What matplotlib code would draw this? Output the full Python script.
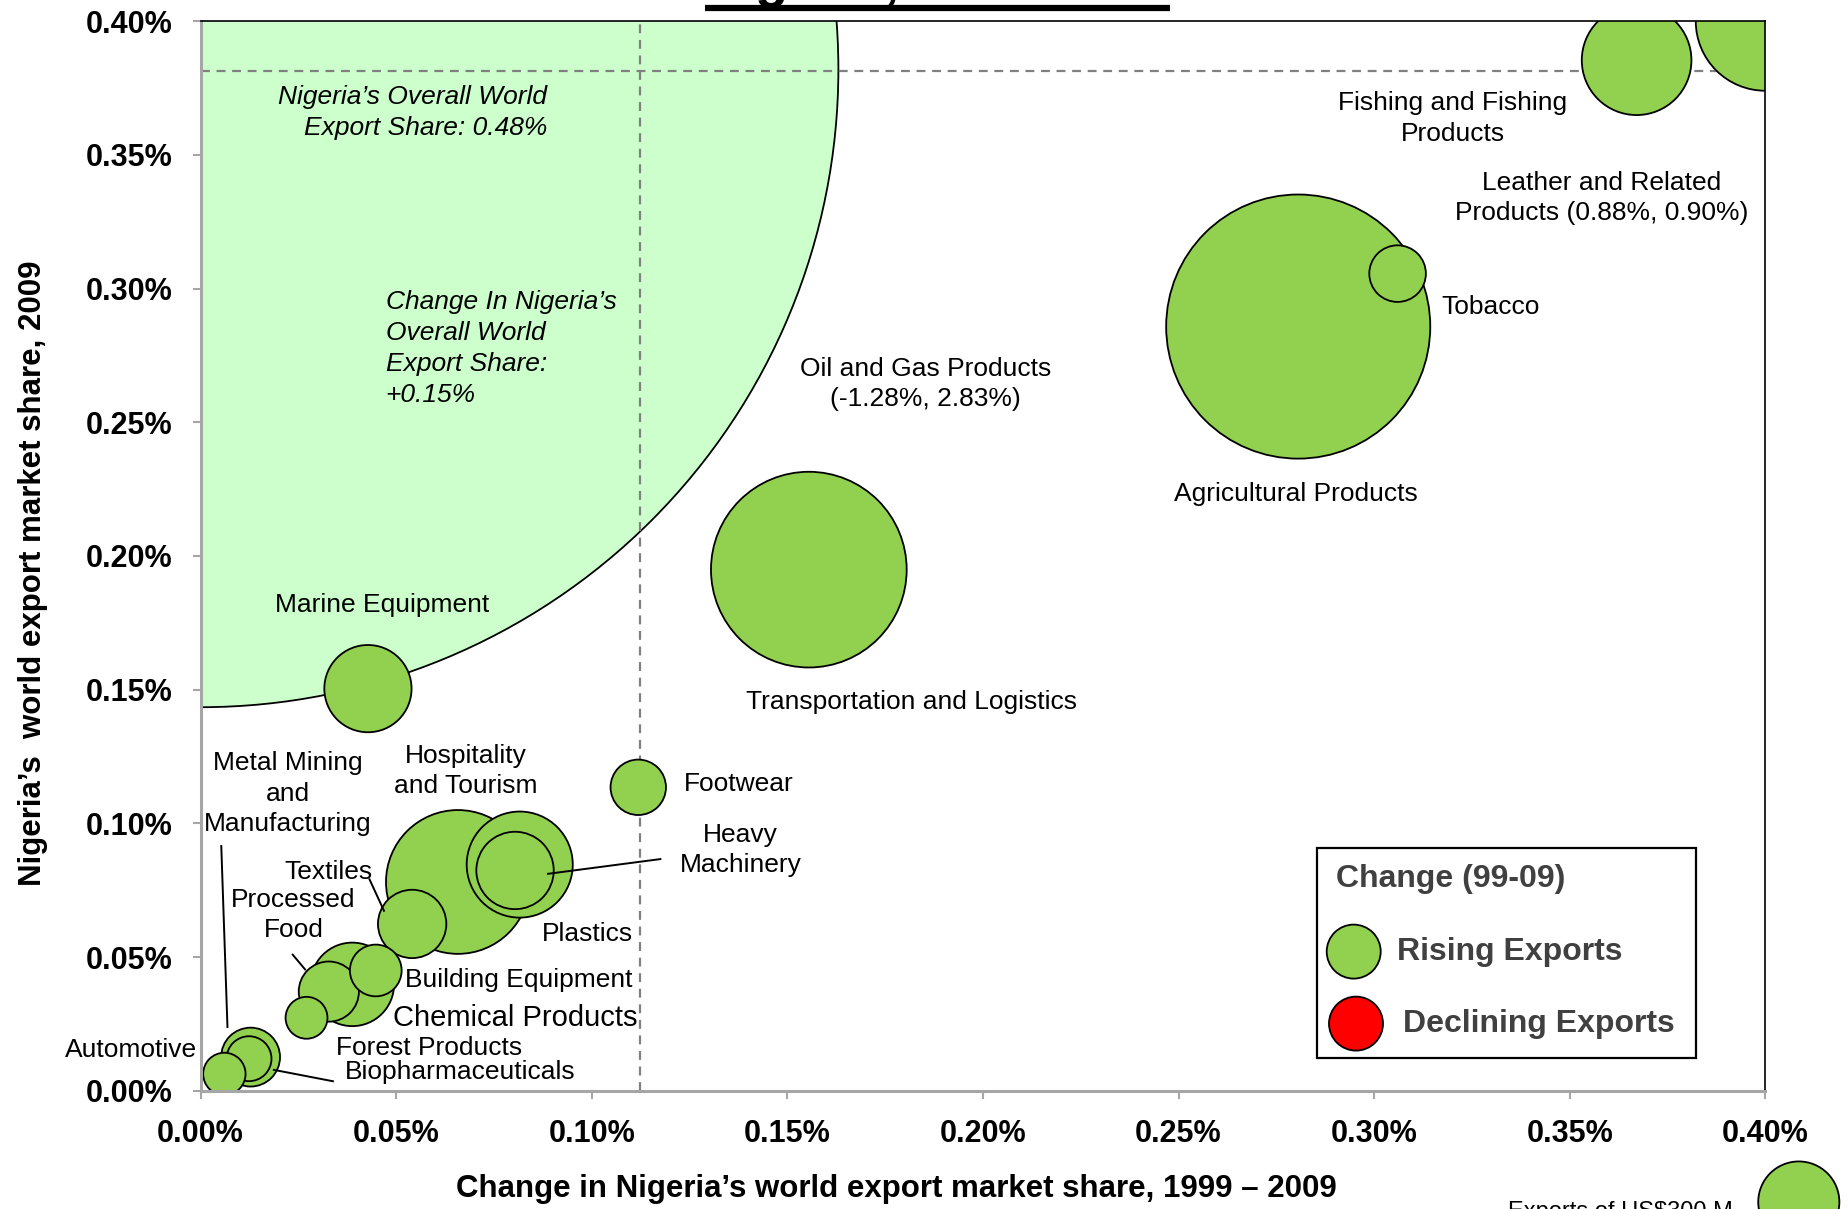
import numpy as np
import matplotlib
matplotlib.use("Agg")
import matplotlib.pyplot as plt
from matplotlib.patches import Rectangle, Ellipse
from matplotlib.lines import Line2D

plt.rcParams['font.family'] = ['Liberation Sans', 'DejaVu Sans']

# ---------------- data ----------------
clusters = ["Automotive", "Metal Mining and Manufacturing", "Biopharmaceuticals",
            "Forest Products", "Processed Food", "Chemical Products",
            "Building Equipment", "Textiles", "Hospitality and Tourism",
            "Plastics", "Heavy Machinery", "Footwear", "Marine Equipment",
            "Transportation and Logistics", "Agricultural Products", "Tobacco",
            "Fishing and Fishing Products", "Leather and Related Products"]
# change in world export market share 1999-2009 (%)
share_change = [0.0061, 0.0128, 0.0124, 0.0271, 0.0328, 0.0388, 0.0448, 0.0541,
                0.0658, 0.0816, 0.0804, 0.1119, 0.0428, 0.1555, 0.2806, 0.3060,
                0.3671, 0.88]
# world export market share 2009 (%)
share_2009 = [0.0063, 0.0126, 0.0120, 0.0273, 0.0371, 0.0398, 0.0450, 0.0624,
              0.0781, 0.0846, 0.0824, 0.1135, 0.1504, 0.1949, 0.2858, 0.3056,
              0.3854, 0.90]
# exports 2009 (US$ M) -> bubble area
exports = [82, 158, 92, 80, 165, 318, 122, 213, 943, 513, 273, 140, 347,
           1746, 3180, 146, 548, 882]

overall_change_plot = 0.0      # plotted position of Nigeria's overall bubble
overall_share_plot = 0.382
overall_exports = 74200
ref_change = 0.1124            # vertical reference line
ref_share = 0.3815             # horizontal reference line
legend_exports = 300

xtick_vals = [0.00, 0.05, 0.10, 0.15, 0.20, 0.25, 0.30, 0.35, 0.40]
xtick_labels = ["0.00%", "0.05%", "0.10%", "0.15%", "0.20%", "0.25%", "0.30%", "0.35%", "0.40%"]
ytick_vals = xtick_vals
ytick_labels = xtick_labels

GREEN = '#92D050'
RED = '#FF0000'
LIGHT = '#CCFFCC'

# ---------------- figure ----------------
DPI = 100
fig = plt.figure(figsize=(18.49, 12.09), dpi=DPI)
ax = fig.add_axes([0.10844, 0.09777, 0.84630, 0.88470])
ax.set_xlim(0, 0.40)
ax.set_ylim(0, 0.40)

REF_R_PX = 40.56  # radius in px of a US$300M bubble


def area(v):
    r_px = REF_R_PX * np.sqrt(np.asarray(v, dtype=float) / legend_exports)
    d_pt = 2 * r_px * 72.0 / DPI
    return d_pt ** 2


# overall bubble
ax.scatter([overall_change_plot], [overall_share_plot], s=area(overall_exports),
           c=LIGHT, edgecolors='black', linewidths=1.3, zorder=1)

# reference lines
ax.axhline(ref_share, color='#808080', lw=1.6, ls=(0, (4, 3)), zorder=2)
ax.axvline(ref_change, color='#808080', lw=1.6, ls=(0, (4, 3)), zorder=2)

# cluster bubbles, largest first
xs = np.minimum(np.array(share_change), 0.40)
ys = np.minimum(np.array(share_2009), 0.40)
ex = np.array(exports)
order = np.argsort(-ex, kind='stable')
ax.scatter(xs[order], ys[order], s=area(ex[order]), c=GREEN,
           edgecolors='black', linewidths=1.3, zorder=3)

# labels
FS = 19
labels = [
    ("Nigeria’s Overall World\nExport Share: 0.48%", 0.0886, 0.3658, 'right', FS, 'italic'),
    ("Change In Nigeria’s\nOverall World\nExport Share:\n+0.15%", 0.0473, 0.2776, 'left', FS, 'italic'),
    ("Fishing and Fishing\nProducts", 0.3201, 0.3636, 'center', FS, 'normal'),
    ("Leather and Related\nProducts (0.88%, 0.90%)", 0.3581, 0.3338, 'center', FS, 'normal'),
    ("Tobacco", 0.3171, 0.2933, 'left', FS, 'normal'),
    ("Oil and Gas Products\n(-1.28%, 2.83%)", 0.1854, 0.2642, 'center', FS, 'normal'),
    ("Agricultural Products", 0.2800, 0.2231, 'center', FS, 'normal'),
    ("Transportation and Logistics", 0.1817, 0.1455, 'center', FS, 'normal'),
    ("Marine Equipment", 0.0464, 0.1817, 'center', FS, 'normal'),
    ("Footwear", 0.1236, 0.1147, 'left', FS, 'normal'),
    ("Heavy\nMachinery", 0.1380, 0.0900, 'center', FS, 'normal'),
    ("Hospitality\nand Tourism", 0.0678, 0.1195, 'center', FS, 'normal'),
    ("Metal Mining\nand\nManufacturing", 0.0223, 0.1111, 'center', FS, 'normal'),
    ("Textiles", 0.0326, 0.0820, 'center', FS, 'normal'),
    ("Processed\nFood", 0.0238, 0.0657, 'center', FS, 'normal'),
    ("Plastics", 0.0989, 0.0587, 'center', FS, 'normal'),
    ("Building Equipment", 0.0524, 0.0415, 'left', FS, 'normal'),
    ("Chemical Products", 0.0491, 0.0273, 'left', 21, 'normal'),
    ("Forest Products", 0.0347, 0.0159, 'left', FS, 'normal'),
    ("Biopharmaceuticals", 0.0368, 0.0071, 'left', FS, 'normal'),
    ("Automotive", -0.0009, 0.0154, 'right', FS, 'normal'),
]
for txt, x, y, ha, fs, style in labels:
    ax.text(x, y, txt, ha=ha, va='center', fontsize=fs, style=style,
            multialignment=ha, linespacing=1.38 if style == 'italic' else 1.33,
            zorder=6, clip_on=False)

leaders = [
    ((0.0886, 0.1178), (0.0811, 0.0867)),
    ((0.0053, 0.0069), (0.0919, 0.0235)),
    ((0.0431, 0.0470), (0.0794, 0.0670)),
    ((0.0234, 0.0269), (0.0512, 0.0451)),
    ((0.0185, 0.0341), (0.0079, 0.0035)),
]
for lx, ly in leaders:
    ax.plot(lx, ly, color='black', lw=1.4, zorder=5, solid_capstyle='butt')

# axes styling
ax.set_xticks(xtick_vals)
ax.set_xticklabels(xtick_labels, fontweight='bold', fontsize=22)
ax.set_yticks(ytick_vals)
ax.set_yticklabels(ytick_labels, fontweight='bold', fontsize=22)
ax.tick_params(axis='both', direction='out', length=6, width=1.5,
               color='#A6A6A6', pad=14)
for s in ('left', 'bottom'):
    ax.spines[s].set_color('#A6A6A6')
    ax.spines[s].set_linewidth(2.2)
for s in ('top', 'right'):
    ax.spines[s].set_color('black')
    ax.spines[s].set_linewidth(1.2)
for s in ax.spines.values():
    s.set_zorder(7)

fig.text(0.485, 1 - 1188.6 / 1209, "Change in Nigeria’s world export market share, 1999 – 2009",
         ha='center', va='center', fontsize=22.5, fontweight='bold')
fig.text(33 / 1849, 0.526, "Nigeria’s  world export market share, 2009",
         ha='center', va='center', rotation=90, fontsize=22.5, fontweight='bold')

# title (mostly above the canvas, as in the source) and its underline
fig.text(937.5 / 1849, 1 + 3 / 1209, "Nigeria, 1999-2009", ha='center', va='baseline',
         fontsize=39, fontweight='bold')
fig.add_artist(Line2D([705 / 1849, 1170 / 1849], [1 - 8 / 1209, 1 - 8 / 1209],
                      transform=fig.transFigure, color='black', lw=4.5,
                      solid_capstyle='butt'))

# legend box
W, H = 1849.0, 1209.0
fig.add_artist(Rectangle((1317 / W, 1 - 1057.7 / H), 379 / W, 209.9 / H,
                         transform=fig.transFigure, facecolor='white',
                         edgecolor='black', lw=1.6, zorder=5))
fig.text(1336 / W, 1 - 878.5 / H, "Change (99-09)", ha='left', va='center',
         fontsize=23, fontweight='bold', color='#404040', zorder=7)
fig.add_artist(Ellipse((1353.7 / W, 1 - 951.6 / H), 54 / W, 54 / H,
                       transform=fig.transFigure, facecolor=GREEN,
                       edgecolor='black', lw=1.3, zorder=6))
fig.text(1397.4 / W, 1 - 951.6 / H, "Rising Exports", ha='left', va='center',
         fontsize=23, fontweight='bold', color='#404040', zorder=7)
fig.add_artist(Ellipse((1356 / W, 1 - 1023.6 / H), 54 / W, 54 / H,
                       transform=fig.transFigure, facecolor=RED,
                       edgecolor='black', lw=1.3, zorder=6))
fig.text(1403 / W, 1 - 1023.6 / H, "Declining Exports", ha='left', va='center',
         fontsize=23, fontweight='bold', color='#404040', zorder=7)

# size reference (partly off canvas, as in the source)
fig.add_artist(Ellipse((1798.8 / W, 1 - 1202 / H), 2 * REF_R_PX / W, 2 * REF_R_PX / H,
                       transform=fig.transFigure, facecolor=GREEN,
                       edgecolor='black', lw=1.3, zorder=6))
fig.text(1508 / W, 1 - 1201 / H, "Exports of US$%d M" % legend_exports, ha='left', va='top',
         fontsize=17, zorder=7)

fig.savefig("out.png", dpi=DPI)
